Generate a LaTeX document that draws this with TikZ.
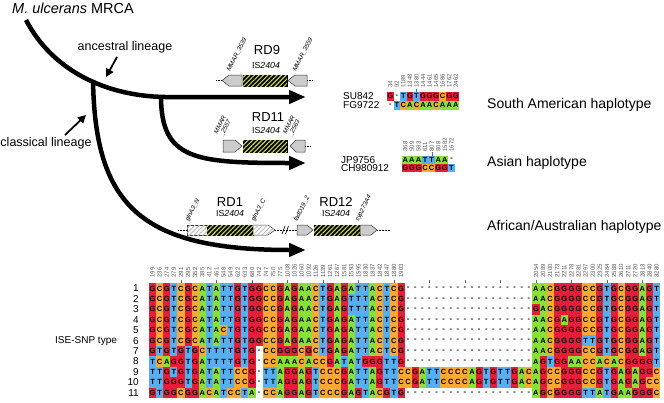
\documentclass[tikz,border=0pt]{standalone}
\usepackage{fontspec}
\setmainfont{Liberation Sans}
\usetikzlibrary{arrows.meta,patterns.meta}

\definecolor{nucA}{RGB}{135,225,55}
\definecolor{nucC}{RGB}{250,170,50}
\definecolor{nucG}{RGB}{230,30,58}
\definecolor{nucT}{RGB}{85,175,240}
\definecolor{isyellow}{RGB}{205,215,80}

\tikzset{
  lineage/.style={line width=4.5pt,-{Triangle[length=17pt,width=13pt]}},
  pointer/.style={line width=1.8pt,-{Triangle[length=8pt,width=8pt]}},
  isbox/.style={draw=black,fill=black,line width=0.5pt,
    postaction={pattern={Lines[angle=45,distance=3.2pt,line width=1.1pt]},pattern color=isyellow}},
  genebox/.style={draw=black!80,fill=black!20,line width=0.5pt},
  trunc/.style={draw=black!80,fill=white,line width=0.5pt,
    postaction={pattern={Lines[angle=45,distance=3.2pt,line width=1pt]},pattern color=black!25}},
  flank/.style={densely dotted,line width=0.5pt},
  gname/.style={font=\fontsize{6.3}{6.3}\selectfont\itshape,rotate=63,anchor=south west,inner sep=0.3pt,align=left},
  rdname/.style={font=\fontsize{13}{14}\selectfont,inner sep=0pt},
  isname/.style={font=\fontsize{8.8}{9}\selectfont,inner sep=0pt},
  hapname/.style={font=\fontsize{14}{15}\selectfont,anchor=west,inner sep=0pt},
  lineagename/.style={font=\fontsize{12.5}{14}\selectfont,inner sep=0pt},
  posnum/.style={font=\fontsize{6}{6}\selectfont,text=black!65,rotate=90,anchor=west,inner sep=0.2pt},
  basechar/.style={font=\fontsize{7.5}{8}\selectfont\bfseries,inner sep=0pt},
  strain/.style={font=\fontsize{10}{11}\selectfont,anchor=west,inner sep=0pt},
  rownum/.style={font=\fontsize{10}{11}\selectfont,anchor=east,inner sep=0pt},
  tick/.style={line width=0.4pt,black!60}
}

% une ligne de l'alignement : nom, x0, y0, largeur, hauteur, lettres
\makeatletter
\newcommand\seqrow[6]{%
  \def\cx{#2}\def\ci{0}%
  \edef\seqlist{#6}%
  \expandafter\@tfor\expandafter\nt\expandafter:\expandafter=\seqlist\do{%
    \pgfmathtruncatemacro\ci{\ci+1}%
    \edef\ncol{nuc\nt}%
    \if\nt-\else\fill[fill=\ncol] (\cx,#3) rectangle ++(#4,#5);\fi
    \node[basechar] (#1-\ci) at (\cx+#4/2,#3+#5/2) {\nt};
    \pgfmathsetmacro\cx{\cx+#4}}%
}
\makeatother

\begin{document}
\begin{tikzpicture}[x=1pt,y=-1pt]
\useasboundingbox (0,0) rectangle (664,402);

%arbre
\draw[lineage] (26,20) .. controls (52,70) and (105,96) .. (165,97) -- (306,97);
\draw[lineage] (161,96) .. controls (161,160) and (195,163) .. (306,163);
\draw[lineage] (93,80) .. controls (95,205) and (140,250) .. (306,250);

\node[font=\fontsize{14.5}{16}\selectfont,anchor=west,inner sep=0pt] (mrca) at (12,8) {\textit{M. ulcerans} MRCA};

\node[lineagename] (anc) at (125,47) {ancestral lineage};
\coordinate (ancfrom) at (117,57);
\coordinate (ancto) at (106,77);
\draw[pointer] (ancfrom) -- (ancto);

\node[lineagename] (cla) at (46,143) {classical lineage};
\coordinate (clafrom) at (65,135);
\coordinate (clato) at (86,115);
\draw[pointer] (clafrom) -- (clato);

%RD9
\node[rdname] (rd9) at (267,50) {RD9};
\node[isname] (is9) at (266,65) {IS\textit{2404}};
\draw[flank] (216,80.5) -- (222,80.5);
\draw[genebox] (222,80.5) -- (229,75) -- (242,75) -- (242,86) -- (229,86) -- cycle;
\draw[isbox] (243,75) rectangle (287,86);
\draw[genebox] (288,80.5) -- (295,75) -- (307,75) -- (307,86) -- (295,86) -- cycle;
\draw[flank] (307,80.5) -- (313,80.5);
\node[gname] (g3539) at (231,73) {MMAR\_3539};
\node[gname] (g3559) at (297,73) {MMAR\_3559};

%RD11
\node[rdname] (rd11) at (268,117) {RD11};
\node[isname] (is11) at (266,130) {IS\textit{2404}};
\draw[genebox] (223,140) -- (235,140) -- (242,146) -- (235,152) -- (223,152) -- cycle;
\draw[isbox] (243,140) rectangle (287,152);
\draw[genebox] (290,146) -- (296,140) -- (305,140) -- (305,152) -- (296,152) -- cycle;
\draw[flank] (305,146) -- (311,146);
\node[gname] (g2557) at (224,138) {MMAR\\\_2557};
\node[gname] (g2563) at (293,138) {MMAR\\\_2563};

%RD1 et RD12
\node[rdname] (rd1) at (230,202) {RD1};
\node[isname] (is1) at (230,213) {IS\textit{2404}};
\node[rdname] (rd12) at (336,202) {RD12};
\node[isname] (is12) at (336,213) {IS\textit{2404}};
\draw[flank] (178,230) -- (187,230);
\draw[trunc] (187,225) rectangle (207,235);
\draw[isbox] (207,225) rectangle (253,235);
\draw[trunc] (253,225) -- (268,225) -- (275,230) -- (268,235) -- (253,235) -- cycle;
\draw[flank] (275,230) -- (297,230);
\draw[line width=0.6pt] (282,234) -- (285,226) (285.5,234) -- (288.5,226);
\draw[genebox] (297,225) -- (307,225) -- (313,230) -- (307,235) -- (297,235) -- cycle;
\draw[isbox] (314,225) rectangle (360,235);
\draw[genebox] (360,225) -- (371,225) -- (377,230) -- (371,235) -- (360,235) -- cycle;
\draw[flank] (377,230) -- (390,230);
\node[gname] (gN) at (190,223) {glnA3\_N};
\node[gname] (gC) at (256,223) {glnA3\_C};
\node[gname] (gfad) at (298,223) {fadD19\_2};
\node[gname] (gcyp) at (360,223) {cyp273A4};

%haplotypes
\node[hapname] (hsa) at (487,105) {South American haplotype};
\node[hapname] (has) at (487,163) {Asian haplotype};
\node[hapname] (haf) at (487,227) {African/Australian haplotype};

%SNP sud-americains
\foreach \p [count=\k] in {34,92,1189,1348,1380,1444,1461,1465,1686,1762,2462}
  \node[posnum] (su\k) at ({387+(\k-0.5)*6.55},88) {\p};
\draw[tick] ({387+4.5*6.55},88.5) -- ++(0,3.2);
\node[strain] (su842) at (343,96.2) {SU842};
\node[strain] (fg9722) at (343,105.1) {FG9722};
\seqrow{sa}{387}{91.7}{6.55}{8.9}{G-TGTGGGCGG}
\seqrow{sb}{387}{100.6}{6.55}{8.9}{-TCACAACAAA}

%SNP asiatiques
\foreach \p [count=\k] in {368,509,583,611,807,808,1582,1672}
  \node[posnum] (as\k) at ({402+(\k-0.5)*6.6},152) {\p};
\draw[tick] ({402+4.5*6.6},152.3) -- ++(0,3.2);
\node[strain] (jp9756) at (341,159.6) {JP9756};
\node[strain] (ch980912) at (341,168) {CH980912};
\seqrow{aa}{402}{155.5}{6.6}{8.3}{AAATTAA-}
\seqrow{ab}{402}{163.8}{6.6}{8.3}{GGGCCGGT}

%ISE-SNP
\foreach \p [count=\k] in {199,236,274,279,291,295,352,385,412,461,548,549,622,633,680,742,747,750,775,1008,1026,1060,1092,1126,1139,1261,1267,1581,1593,1595,1830,1837,1842,1847,1880,1903}
  \node[posnum] (m\k) at ({149+(\k-0.5)*7.1},278) {\p};
\foreach \p [count=\k from 55] in {2054,2089,2100,2173,2211,2278,2281,2297,2300,2325,2484,2588,2610,2711,2720,2813,2840,3280}
  \node[posnum] (m\k) at ({149+(\k-0.5)*7.1},278) {\p};
\foreach \k in {5,10,...,70}
  \draw[tick] ({149+(\k-0.5)*7.1},279.5) -- ++(0,3.5);

\node[font=\fontsize{10}{11}\selectfont,anchor=west,inner sep=0pt] (ise) at (55,341) {ISE-SNP type};

\foreach \s [count=\r] in {
  GCGTCGCATATTGTGGCCGAGAACTGAGATTACTCG------------------AACGGGGCCGTGCGGAGT,
  GCGTCGCATATTGTGGCCGAGAACTGAGTTTACTCG------------------AACGGGGCCGTGCGGAGT,
  GCGTCGCATATTGTGGCCGAGAACTGAGTTTACTCG------------------GACGGGGCCGTGCGGAGT,
  GCGTCGCATATTGTGGCCGAGAACTGAGATTACTCG------------------AACGAGGCCGTGCGGAGT,
  GCGTCGCATACTGTGGCCGAGAACTGAGATTACTCG------------------AACGGGGCCGTGCGGAGT,
  GCGTCGCATATTGTGGCCGAGAACTGAGATTACTCG------------------AACGGGGTTGTGCGGAGT,
  GTGTGTGCTTTTGTG-CCGGGCGCTGAGATTACTCG------------------AACGGGGCCGTGCGGAGT,
  TCAGGTGATTTTGTG-CCAAACACCGATATGGGTTG------------------AGTGGAACCACACGGGGT,
  TTGTGTGATATTCCG-TTAGGAGTCCCGATTAGTTCCGATTCCCCAGTGTTGACAGCCGGGCCGTGAGAGGC,
  TTGGGTGATATTCCG-TTAGGAGTCCCGATTAGTTCCGATTCCCCAGTGTTGACAGCCGGGCCGTGAGAGCC,
  GTGGCGGACATCCTA-CCAGGAGTCCCGAGTACGTG------------------AGCGGGGTTATGAAGGGC}
{
  \pgfmathsetmacro\ry{283.3+(\r-1)*10.43}
  \node[rownum] (n\r) at (139,\ry+5.2) {\r};
  \seqrow{t\r}{149}{\ry}{7.1}{10.43}{\s}
}

\end{tikzpicture}
\end{document}
